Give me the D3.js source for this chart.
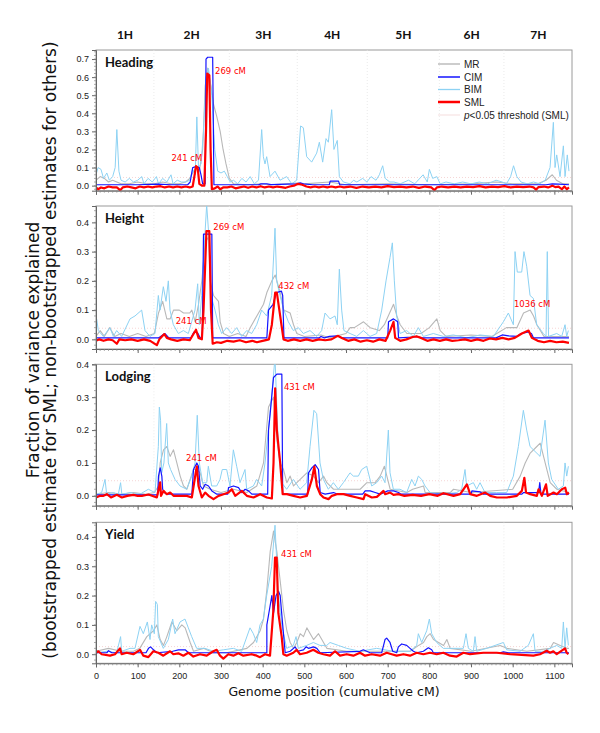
<!DOCTYPE html>
<html><head><meta charset="utf-8">
<script src="https://cdn.jsdelivr.net/npm/d3@7"></script>
<style>body{margin:0;background:#fff}svg{display:block}</style>
</head><body>
<svg id="chart" width="600" height="733"></svg>
<script>
// ---------------- DATA ----------------
const traits = ["Heading", "Height", "Lodging", "Yield"];
const methods = ["MR", "CIM", "BIM", "SML"];
const chromosomes = ["1H", "2H", "3H", "4H", "5H", "6H", "7H"];
const chromCenters = [69.6, 229.7, 401.5, 567, 737.5, 901.6, 1061.4];
const chromBounds = [139, 320, 483, 651, 824, 979];
const xTickValues = [0, 100, 200, 300, 400, 500, 600, 700, 800, 900, 1000, 1100];
const yTickHeading = [0, 0.1, 0.2, 0.3, 0.4, 0.5, 0.6, 0.7];
const yTickOther = [0, 0.1, 0.2, 0.3, 0.4];
const thresholds = [0.045, 0.038, 0.046, 0.026];

// Heading
const headingMR = [[0,0.03],[10,0.05],[20,0.04],[30,0.02],[40,0.03],[60,0.01],[80,0.01],[100,0.02],[120,0.01],[140,0.01],[160,0.02],[180,0.01],[200,0.01],[215,0.02],[225,0.04],[232,0.07],[240,0.1],[248,0.08],[256,0.2],[262,0.55],[268,0.65],[276,0.55],[282,0.45],[290,0.38],[298,0.3],[305,0.2],[312,0.12],[320,0.04],[330,0.01],[360,0.005],[400,0.01],[420,0.005],[480,0.015],[500,0.01],[560,0.02],[600,0.005],[700,0.01],[800,0.005],[900,0.01],[960,0.02],[1000,0.01],[1060,0.01],[1080,0.03],[1095,0.06],[1105,0.03],[1120,0.01],[1135,0.01]];
const headingCIM = [[0,0.005],[100,0.005],[150,0.008],[180,0.005],[220,0.005],[226,0.02],[232,0.1],[240,0.105],[248,0.1],[252,0.06],[256,0.01],[262,0.01],[264,0.7],[268,0.71],[280,0.71],[283,0.005],[390,0.005],[396,0.01],[410,0.01],[420,0.006],[482,0.01],[490,0.015],[498,0.01],[520,0.005],[560,0.005],[562,0.025],[582,0.025],[585,0.005],[1080,0.005],[1095,0.01],[1110,0.008],[1135,0.005]];
const headingBIM = [[0,0.06],[5,0.1],[12,0.09],[18,0.04],[26,0.07],[32,0.03],[40,0.05],[46,0.1],[50,0.31],[55,0.08],[60,0.03],[70,0.02],[80,0.04],[90,0.02],[100,0.03],[110,0.05],[115,0.01],[125,0.04],[135,0.02],[145,0.05],[150,0.01],[160,0.04],[170,0.02],[180,0.06],[185,0.01],[195,0.03],[205,0.02],[215,0.02],[225,0.03],[232,0.09],[238,0.06],[242,0.38],[246,0.1],[252,0.12],[258,0.3],[264,0.6],[270,0.65],[278,0.5],[285,0.2],[292,0.08],[300,0.07],[308,0.08],[315,0.05],[322,0.02],[330,0.03],[340,0.01],[350,0.04],[360,0.02],[370,0.05],[380,0.01],[390,0.03],[397.6,0.31],[401.6,0.16],[405.6,0.12],[409.6,0.16],[417.6,0.05],[429.6,0.08],[441.6,0.03],[457.6,0.05],[469.6,0.01],[481.6,0.03],[491,0.33],[497.6,0.32],[505.6,0.16],[517.6,0.13],[529.6,0.18],[536,0.24],[544,0.13],[552,0.26],[557.6,0.24],[565.6,0.42],[571,0.2],[579,0.25],[584,0.05],[593.6,0.02],[609.6,0.01],[618,0.03],[626,0.02],[640,0.04],[650,0.02],[660,0.05],[672,0.03],[680,0.06],[688,0.11],[694,0.04],[705,0.02],[715,0.02],[730,0.01],[750,0.03],[765,0.01],[785,0.06],[795,0.02],[800,0.09],[808,0.04],[818,0.05],[826,0.01],[840,0.02],[860,0.01],[880,0.02],[900,0.01],[920,0.02],[940,0.01],[960,0.03],[975,0.02],[985,0.01],[995,0.05],[1002,0.11],[1010,0.05],[1020,0.02],[1035,0.01],[1050,0.02],[1065,0.01],[1078,0.03],[1089.6,0.1],[1097.6,0.35],[1101.6,0.1],[1105.6,0.17],[1113.6,0.05],[1121.6,0.22],[1125.6,0.05],[1131,0.17],[1135,0.08]];
const headingSML = [[0,-0.01],[5,-0.02],[12,-0.01],[20,-0.015],[30,-0.005],[40,-0.01],[50,-0.01],[58,-0.025],[64,-0.01],[75,-0.005],[85,-0.01],[95,-0.015],[105,-0.005],[115,-0.01],[125,-0.005],[135,-0.01],[145,-0.005],[155,-0.003],[165,-0.01],[175,-0.005],[185,-0.01],[195,-0.005],[205,-0.01],[215,-0.005],[225,-0.01],[232,-0.005],[236,0.05],[240,0.108],[244,0.1],[248,0.01],[254,0],[260,0],[264,0.3],[267,0.62],[272,0.61],[275,0.2],[278,-0.02],[285,-0.015],[292,-0.005],[298,-0.02],[305,-0.01],[315,-0.01],[325,-0.005],[335,-0.015],[345,-0.01],[355,-0.005],[365,-0.012],[375,-0.005],[385,-0.01],[395,-0.003],[405,-0.01],[415,-0.005],[425,-0.01],[435,-0.005],[445,-0.008],[455,-0.012],[465,-0.005],[475,0],[485,0.01],[495,0.005],[505,-0.005],[515,-0.01],[525,-0.005],[535,-0.01],[545,-0.005],[555,-0.01],[565,-0.005],[575,-0.01],[585,-0.005],[595,-0.01],[610,-0.005],[625,-0.012],[640,-0.005],[655,-0.01],[670,-0.005],[685,-0.01],[700,-0.003],[715,-0.008],[730,-0.005],[745,-0.01],[760,-0.005],[775,-0.012],[790,-0.005],[805,-0.01],[812,-0.025],[818,-0.01],[830,-0.005],[845,-0.01],[860,-0.005],[875,-0.01],[890,-0.005],[905,-0.008],[920,-0.003],[935,-0.01],[950,-0.005],[965,-0.008],[980,-0.003],[995,-0.01],[1010,-0.005],[1025,-0.008],[1040,-0.005],[1050,-0.01],[1056,-0.022],[1062,-0.008],[1075,-0.005],[1085,-0.01],[1095,0],[1102,-0.008],[1110,-0.005],[1118,-0.02],[1124,-0.005],[1130,-0.02],[1135,-0.01]];

// Height
const heightMR = [[0,0.01],[10,0.03],[20,0.01],[33,0.04],[45,0.01],[60,0.02],[80,0.01],[100,0.02],[120,0.01],[140,0.02],[150,0.09],[160,0.13],[170,0.07],[178,0.07],[186,0.1],[200,0.1],[210,0.09],[225,0.09],[230,0.1],[238,0.06],[246,0.12],[254,0.2],[262,0.33],[270,0.35],[274,0.2],[282,0.15],[294,0.13],[298,0.06],[306,0.02],[320,0.01],[340,0.02],[360,0.01],[370,0.04],[386,0.08],[402,0.12],[410,0.16],[422,0.2],[430,0.22],[442,0.16],[450,0.1],[466,0.09],[474,0.05],[482,0.02],[500,0.01],[540,0.015],[560,0.005],[600,0.02],[610,0.04],[620,0.04],[642,0.06],[658,0.04],[680,0.03],[692,0.05],[714,0.12],[722,0.08],[730,0.05],[746,0.02],[780,0.02],[800,0.04],[818,0.07],[826,0.03],[840,0.01],[900,0.015],[950,0.01],[985,0.04],[1010,0.04],[1026,0.09],[1042,0.1],[1050,0.08],[1058,0.05],[1075,0.01],[1135,0.01]];
const heightCIM = [[0,0.005],[150,0.005],[165,0.02],[175,0.005],[228,0.005],[235,0.025],[244,0.022],[250,0.005],[255,0.005],[258,0.36],[278,0.36],[280,0.005],[410,0.005],[414,0.1],[425,0.12],[433,0.16],[445,0.165],[448,0.15],[451,0.005],[535,0.005],[540,0.01],[548,0.005],[560,0.01],[580,0.012],[590,0.005],[700,0.005],[702,0.06],[714,0.07],[724,0.06],[726,0.005],[760,0.008],[770,0.01],[780,0.005],[960,0.005],[975,0.015],[990,0.012],[1010,0.01],[1020,0.02],[1036,0.025],[1045,0.02],[1050,0.005],[1135,0.005]];
const heightBIM = [[1.6,0.07],[5.6,0.03],[17.6,0.01],[33.6,0.04],[41.6,0.01],[49.6,0.03],[61.6,0.01],[81.6,0.07],[93.6,0.08],[109.6,0.1],[117.6,0.03],[129.6,0.01],[141.6,0.02],[149.6,0.15],[153.6,0.1],[161.6,0.18],[168,0.13],[173.6,0.2],[177.6,0.1],[185.6,0.05],[197.6,0.02],[209.6,0.03],[221.6,0.02],[229.6,0.06],[237.6,0.1],[244,0.19],[248,0.05],[253.6,0.15],[259,0.3],[265.6,0.46],[271,0.35],[276,0.15],[285.6,0.1],[293.6,0.05],[301.6,0.02],[313.6,0.04],[325.6,0.02],[337.6,0.04],[349.6,0.01],[361.6,0.03],[373.6,0.02],[385.6,0.05],[397.6,0.1],[409.6,0.08],[421.6,0.15],[429.6,0.38],[433.6,0.2],[441.6,0.15],[451,0.1],[461.6,0.06],[473.6,0.03],[485.6,0.04],[497.6,0.02],[513.6,0.03],[529.6,0.01],[541.6,0.03],[549.6,0.09],[561.6,0.07],[573.6,0.08],[579,0.05],[584,0.24],[589.6,0.1],[595,0.03],[609.6,0.02],[625.6,0.01],[641.6,0.03],[657.6,0.01],[673.6,0.02],[685.6,0.1],[696,0.2],[705.6,0.28],[711.2,0.33],[716,0.2],[721.6,0.08],[729.6,0.02],[745.6,0.03],[761.6,0.01],[773.6,0.04],[785.6,0.01],[809.6,0.02],[833.6,0.01],[857.6,0.015],[889.6,0.005],[921.6,0.015],[953.6,0.01],[977.6,0.06],[989.6,0.09],[1001.6,0.05],[1005.6,0.3],[1011,0.23],[1021.6,0.23],[1027,0.3],[1033.6,0.25],[1041.6,0.15],[1049.6,0.14],[1057.6,0.05],[1073.6,0.02],[1080,0.01],[1083,0.3],[1086,0.01],[1105.6,0.02],[1117.6,0.01],[1125.6,0.05],[1129.6,0.01],[1133.6,0.03]];
const heightSML = [[0,-0.005],[8,0],[18,-0.005],[30,0],[40,-0.003],[50,-0.015],[56,0],[70,-0.003],[85,0],[100,-0.005],[115,0],[130,-0.005],[146,-0.02],[152,0],[164,0.018],[170,0.005],[180,0],[195,-0.005],[210,0],[225,-0.003],[240,0.033],[246,0.005],[254,0],[258,0.1],[265,0.37],[272,0.37],[276,0.1],[280,-0.015],[290,-0.01],[300,-0.012],[315,-0.005],[330,-0.008],[345,-0.003],[360,-0.01],[375,-0.005],[386,-0.01],[400,-0.005],[415,0],[422,0.05],[430,0.16],[434,0.16],[442,0.08],[450,0],[460,-0.005],[475,0],[490,-0.005],[505,0],[520,-0.005],[535,0],[550,-0.003],[565,0],[580,0.012],[590,0.005],[605,-0.005],[620,0],[635,-0.008],[650,-0.003],[665,-0.008],[680,0],[695,-0.005],[706,0.03],[714,0.06],[718,0.005],[730,-0.005],[745,0],[760,0.008],[770,0.01],[780,0.005],[795,-0.005],[810,0],[825,-0.005],[840,0],[855,-0.005],[870,-0.003],[885,0],[900,-0.005],[915,0],[930,-0.005],[945,0.003],[960,0],[975,0.005],[990,0],[1005,0.005],[1022,0.02],[1038,0.03],[1046,0.005],[1060,-0.005],[1075,-0.01],[1090,-0.005],[1105,-0.01],[1120,-0.008],[1135,-0.012]];

// Lodging
const lodgingMR = [[0,0.005],[30,0.01],[60,0.005],[90,0.01],[120,0.005],[140,0.01],[150,0.03],[154,0.1],[162,0.14],[170,0.15],[178,0.12],[186,0.14],[194,0.1],[202,0.06],[210,0.03],[218,0.02],[234,0.08],[242,0.08],[250,0.07],[258,0.03],[274,0.02],[300,0.01],[330,0.02],[362,0.01],[386,0.03],[402,0.1],[414,0.27],[426,0.3],[434,0.17],[442,0.1],[450,0.08],[458,0.04],[466,0.06],[474,0.03],[506,0.07],[522,0.06],[534,0.04],[546,0.06],[554,0.04],[570,0.02],[594,0.02],[634,0.02],[650,0.04],[670,0.04],[682,0.06],[692,0.09],[698,0.06],[706,0.02],[746,0.01],[760,0.02],[786,0.03],[790,0.01],[850,0.01],[858,0.02],[900,0.01],[1000,0.02],[1018,0.06],[1030,0.1],[1042,0.13],[1058,0.15],[1066,0.16],[1074,0.12],[1082,0.08],[1090,0.04],[1106,0.02],[1135,0.01]];
const lodgingCIM = [[0,0.003],[148,0.003],[150,0.06],[154,0.085],[158,0.06],[160,0.02],[164,0.01],[170,0.005],[230,0.005],[234,0.08],[242,0.1],[246,0.09],[250,0.03],[256,0.02],[262,0.035],[270,0.03],[278,0.015],[290,0.005],[316,0.005],[318,0.025],[330,0.03],[342,0.025],[350,0.01],[358,0.02],[366,0.015],[374,0.005],[412,0.005],[414,0.2],[418,0.25],[426,0.36],[434,0.37],[446,0.37],[448,0.005],[508,0.005],[510,0.07],[518,0.085],[526,0.095],[534,0.08],[538,0.01],[550,0.005],[570,0.01],[580,0.005],[640,0.005],[646,0.015],[658,0.015],[670,0.01],[682,0.005],[700,0.015],[714,0.015],[726,0.01],[732,0.005],[900,0.005],[902,0.015],[922,0.012],[930,0.005],[1022,0.005],[1026,0.01],[1042,0.01],[1062,0.01],[1065,0.04],[1068,0.005],[1135,0.005]];
const lodgingBIM = [[1.6,0.005],[13.6,0.01],[21.6,0.05],[25.6,0.005],[41.6,0.01],[53.6,0.005],[59,0.04],[62,0.005],[81.6,0.01],[105.6,0.005],[125.6,0.02],[141.6,0.01],[149.6,0.15],[152,0.27],[155,0.23],[157.6,0.07],[163,0.1],[169.6,0.22],[173.6,0.1],[179,0.08],[189.6,0.05],[201.6,0.03],[217.6,0.02],[229.6,0.06],[237.6,0.1],[243,0.245],[248,0.1],[256,0.04],[265.6,0.04],[269.6,0.09],[277.6,0.03],[289.6,0.03],[297.6,0.05],[303,0.08],[313.6,0.08],[321.6,0.03],[329.6,0.14],[337.6,0.09],[345.6,0.04],[357.6,0.08],[361.6,0.02],[377.6,0.03],[385.6,0.05],[397.6,0.03],[405.6,0.1],[417.6,0.25],[429.6,0.42],[437.6,0.15],[445.6,0.04],[457.6,0.02],[473.6,0.05],[489.6,0.02],[505.6,0.04],[513.6,0.15],[523,0.26],[529.6,0.25],[537.6,0.1],[545.6,0.05],[557.6,0.02],[569.6,0.04],[581.6,0.02],[593.6,0.04],[609.6,0.07],[617.6,0.06],[629.6,0.06],[637.6,0.08],[649.6,0.09],[661.6,0.03],[673.6,0.04],[685.6,0.06],[693.6,0.04],[701.6,0.2],[705.6,0.07],[713.6,0.02],[729.6,0.02],[745.6,0.01],[757.6,0.05],[765.6,0.03],[773.6,0.06],[781.6,0.05],[789.6,0.03],[801.6,0.01],[833.6,0.005],[865.6,0.01],[877.6,0.02],[885.6,0.08],[889.6,0.03],[905.6,0.04],[913.6,0.02],[921.6,0.04],[933.6,0.01],[961.6,0.01],[985.6,0.01],[1001.6,0.06],[1013.6,0.15],[1025.6,0.26],[1033.6,0.2],[1041.6,0.15],[1049.6,0.14],[1065.6,0.12],[1077.6,0.23],[1085.6,0.1],[1093.6,0.05],[1109.6,0.02],[1121.6,0.03],[1125.6,0.1],[1129.6,0.06],[1133.6,0.09]];
const lodgingSML = [[0,-0.005],[10,0],[18,0],[26,0.005],[36,-0.005],[50,0.003],[62,-0.005],[75,0],[90,0.003],[100,0],[110,0],[126,0.004],[146,-0.005],[154,0.041],[156,0],[162,0.015],[170,0.005],[178,0.01],[186,0],[200,0],[218,0],[230,-0.005],[238,0.06],[242,0.09],[246,0.03],[254,-0.005],[262,0.01],[270,0],[282,-0.01],[294,0],[306,0.005],[318,0.01],[326,0.02],[334,0],[350,0.015],[362,0],[378,-0.005],[394,0.005],[410,-0.005],[422,-0.008],[426,0.1],[430,0.327],[434,0.2],[442,0.1],[448,0.005],[458,0.005],[474,0],[490,-0.005],[506,0],[518,0.05],[524,0.089],[530,0.03],[538,0.005],[546,-0.005],[558,-0.01],[566,0],[578,0.005],[594,0.005],[610,0],[626,-0.005],[642,-0.01],[646,0.005],[662,-0.005],[674,-0.003],[690,0.015],[694,0.005],[706,0.01],[714,0.003],[726,0.005],[740,0],[760,0.003],[780,0],[800,0.005],[820,0],[834,0.008],[858,0],[874,0.005],[890,0.035],[898,0.005],[914,0],[934,0.01],[946,0],[962,-0.005],[986,-0.005],[1010,0],[1022,0.015],[1028,0.055],[1032,0.01],[1042,0.005],[1058,0],[1062,0.02],[1070,0],[1080,0.035],[1084,0],[1098,0.01],[1106,0.005],[1118,0.02],[1126,0.025],[1130,0.005],[1135,0.01]];

// Yield
const yieldMR = [[0,0.01],[30,0.02],[60,0.01],[90,0.01],[105,0.02],[122,0.06],[138,0.08],[146,0.1],[154,0.05],[162,0.03],[170,0.06],[182,0.11],[194,0.08],[206,0.1],[214,0.09],[226,0.04],[234,0.01],[258,0.02],[282,0.005],[314,0.005],[362,0.02],[378,0.04],[394,0.08],[402,0.12],[410,0.22],[418,0.35],[426,0.42],[434,0.35],[442,0.25],[450,0.15],[458,0.08],[466,0.04],[474,0.02],[482,0.04],[490,0.07],[498,0.06],[506,0.09],[514,0.07],[522,0.05],[534,0.07],[546,0.04],[554,0.02],[602,0.01],[666,0.01],[754,0.01],[774,0.03],[786,0.04],[794,0.06],[802,0.07],[810,0.05],[822,0.04],[834,0.03],[842,0.05],[850,0.02],[900,0.01],[970,0.03],[986,0.02],[1034,0.01],[1090,0.02],[1098,0.04],[1114,0.03],[1130,0.02],[1135,0.02]];
const yieldCIM = [[0,0.005],[26,0.005],[30,0.012],[38,0.005],[120,0.005],[126,0.02],[131,0.025],[138,0.015],[146,0.005],[184,0.01],[198,0.015],[214,0.015],[222,0.005],[410,0.005],[410,0.1],[416,0.15],[422,0.2],[426,0.14],[432,0.2],[438,0.215],[442,0.2],[448,0.1],[454,0.005],[466,0.01],[478,0.025],[484,0.01],[498,0.015],[504,0.025],[510,0.02],[522,0.025],[530,0.02],[538,0.005],[633.6,0.01],[641.6,0.015],[649.6,0.01],[657.6,0.005],[685.6,0.005],[693.6,0.05],[697.6,0.055],[705.6,0.04],[712,0.01],[721.6,0.005],[725.6,0.025],[733.6,0.035],[745.6,0.03],[753.6,0.02],[761.6,0.01],[769.6,0.005],[785.6,0.01],[797.6,0.022],[805.6,0.015],[809.6,0.005],[970,0.005],[977.6,0.008],[990,0.005],[1135,0.005]];
const yieldBIM = [[1.6,0.005],[25.6,0.01],[49.6,0.005],[59,0.06],[61.6,0.01],[81.6,0.02],[93.6,0.02],[105.6,0.095],[113.6,0.07],[123.2,0.11],[129.6,0.05],[133.6,0.1],[140,0.07],[143.2,0.18],[147.2,0.17],[149.6,0.06],[161.6,0.02],[173.6,0.05],[184,0.12],[189.6,0.07],[201.6,0.11],[213.6,0.12],[221.6,0.09],[229.6,0.06],[241.6,0.02],[261.6,0.02],[281.6,0.01],[305.6,0.015],[329.6,0.02],[349.6,0.01],[369.6,0.09],[377.6,0.07],[385.6,0.04],[393.6,0.1],[401.6,0.12],[409.6,0.2],[421.6,0.3],[429.6,0.44],[437.6,0.2],[445.6,0.1],[457.6,0.02],[473.6,0.03],[480,0.06],[485.6,0.02],[505.6,0.03],[521.6,0.04],[537.6,0.03],[553.6,0.03],[561.6,0.04],[581.6,0.03],[601.6,0.02],[633.6,0.01],[673.6,0.02],[713.6,0.01],[753.6,0.01],[769.6,0.03],[773.6,0.07],[781.6,0.04],[793.6,0.08],[800,0.12],[805.6,0.07],[817.6,0.04],[833.6,0.02],[857.6,0.02],[881.6,0.02],[888,0.07],[893.6,0.02],[905.6,0.01],[909.6,0.06],[913.6,0.01],[937.6,0.02],[977.6,0.04],[985.6,0.015],[1017.6,0.01],[1037.6,0.03],[1049.6,0.07],[1053.6,0.01],[1073.6,0.01],[1089.6,0.02],[1105.6,0.03],[1117.6,0.02],[1121.6,0.11],[1125.6,0.02],[1129.6,0.09],[1133.6,0.03]];
const yieldSML = [[0,0.005],[5.6,0.01],[13.6,0],[33.6,-0.005],[45.6,0],[57.6,0.02],[61.6,0],[73.6,0.005],[89.6,0],[105.6,0.015],[113.6,-0.005],[125.6,-0.01],[137.6,0.01],[149.6,0.005],[161.6,-0.005],[177.6,0.01],[185.6,0],[197.6,0.003],[209.6,-0.005],[221.6,0.005],[233.6,-0.008],[249.6,0],[265.6,-0.005],[281.6,0.01],[289.6,0.015],[297.6,-0.005],[305.6,-0.015],[317.6,0],[329.6,-0.005],[341.6,0.003],[353.6,-0.005],[373.6,0],[385.6,-0.005],[393.6,-0.01],[405.6,0],[417.6,-0.005],[425.6,0.15],[429.6,0.33],[433.6,0.33],[437.6,0.14],[445.6,0.06],[449.6,0],[457.6,-0.005],[473.6,0.005],[481.6,0.015],[489.6,0],[505.6,0.005],[521.6,0.015],[533.6,0.005],[545.6,0],[561.6,-0.005],[573.6,0.01],[585.6,-0.005],[601.6,0],[617.6,-0.005],[633.6,0.005],[645.6,-0.005],[661.6,0],[681.6,-0.005],[697.6,0.005],[709.6,0],[721.6,-0.005],[737.6,0],[753.6,-0.005],[769.6,0.005],[785.6,0],[801.6,0.005],[817.6,0],[833.6,0.005],[849.6,-0.005],[865.6,-0.008],[881.6,0.005],[897.6,0],[929.6,0.005],[961.6,0.005],[993.6,0],[1049.6,-0.005],[1065.6,0],[1081.6,0.012],[1089.6,0.005],[1097.6,0.01],[1105.6,0],[1125.6,0.02],[1129.6,0.005],[1133.6,0]];

// Peak annotations: [panel index, text, cM at text start, value at text baseline]
const annotations = [
  [0, "241 cM", 181, 0.136],
  [0, "269 cM", 285.6, 0.62],
  [1, "269 cM", 281.5, 0.374],
  [1, "432 cM", 437.5, 0.172],
  [1, "241 cM", 191.3, 0.054],
  [1, "1036 cM", 1003, 0.11],
  [2, "431 cM", 451, 0.322],
  [2, "241 cM", 216, 0.106],
  [3, "431 cM", 444, 0.332]
];

const seriesByTrait = [
  {MR: headingMR, CIM: headingCIM, BIM: headingBIM, SML: headingSML},
  {MR: heightMR, CIM: heightCIM, BIM: heightBIM, SML: heightSML},
  {MR: lodgingMR, CIM: lodgingCIM, BIM: lodgingBIM, SML: lodgingSML},
  {MR: yieldMR, CIM: yieldCIM, BIM: yieldBIM, SML: yieldSML}
];

// ---------------- LAYOUT / STYLE ----------------
const svg = d3.select("#chart");
const left = 96, right = 572;
const panels = [
  {top: 50, bottom: 190.7, dom: [-0.028, 0.75], ticks: yTickHeading, minorMax: 0.74},
  {top: 206, bottom: 349, dom: [-0.033, 0.456], ticks: yTickOther, minorMax: 0.44},
  {top: 364.3, bottom: 505.7, dom: [-0.03, 0.4], ticks: yTickOther, minorMax: 0.4},
  {top: 522.3, bottom: 663.3, dom: [-0.031, 0.45], ticks: yTickOther, minorMax: 0.44}
];
const style = {
  MR:  {color: "#b8b8b8", width: 1.1},
  BIM: {color: "#8dd2f3", width: 1.0},
  CIM: {color: "#1414ff", width: 1.2},
  SML: {color: "#ff0000", width: 2.2}
};
const drawOrder = ["MR", "BIM", "CIM", "SML"];

const x = d3.scaleLinear().domain([0, (right - left) / 0.4167]).range([left, right]);

const defs = svg.append("defs");

panels.forEach((p, i) => {
  const y = d3.scaleLinear().domain(p.dom).range([p.bottom, p.top]);
  const g = svg.append("g");
  defs.append("clipPath").attr("id", "clip" + i)
    .append("rect").attr("x", left).attr("y", p.top).attr("width", right - left).attr("height", p.bottom - p.top);

  // frame
  g.append("rect").attr("x", left).attr("y", p.top).attr("width", right - left).attr("height", p.bottom - p.top)
    .attr("fill", "none").attr("stroke", "#9a9a9a").attr("stroke-width", 1);

  const plot = g.append("g").attr("clip-path", `url(#clip${i})`);
  // faint chromosome boundary lines
  plot.selectAll("line.cb").data(chromBounds).join("line")
    .attr("x1", d => x(d)).attr("x2", d => x(d)).attr("y1", p.top).attr("y2", p.bottom)
    .attr("stroke", "#e6e6e6").attr("stroke-width", 0.8).attr("stroke-dasharray", "1,2");
  // threshold
  plot.append("line").attr("x1", left).attr("x2", right)
    .attr("y1", y(thresholds[i])).attr("y2", y(thresholds[i]))
    .attr("stroke", "#f3caca").attr("stroke-width", 0.8).attr("stroke-dasharray", "1,2");

  const line = d3.line().x(d => x(d[0])).y(d => y(d[1]));
  drawOrder.forEach(m => {
    plot.append("path").datum(seriesByTrait[i][m])
      .attr("d", line).attr("fill", "none")
      .attr("stroke", style[m].color).attr("stroke-width", style[m].width)
      .attr("stroke-linejoin", "round");
  });

  // y axis
  const yAxis = d3.axisLeft(y).tickValues(p.ticks).tickFormat(d3.format(".1f")).tickSize(4).tickPadding(3);
  const ya = g.append("g").attr("transform", `translate(${left},0)`).call(yAxis);
  ya.select(".domain").attr("stroke", "#666");
  ya.selectAll(".tick line").attr("stroke", "#666");
  ya.selectAll("text").attr("font-family", "Liberation Sans, Arial, sans-serif").attr("font-size", 9).attr("fill", "#222");
  const yMinor = d3.range(-0.02, p.minorMax + 0.001, 0.02).filter(v => v >= p.dom[0]);
  g.append("g").selectAll("line").data(yMinor).join("line")
    .attr("x1", left - 2).attr("x2", left).attr("y1", d => y(d)).attr("y2", d => y(d))
    .attr("stroke", "#888").attr("stroke-width", 0.7);

  // x axis
  const xAxis = d3.axisBottom(x).tickValues(xTickValues).tickSize(4).tickPadding(5)
    .tickFormat(i === 3 ? d3.format("d") : () => "");
  const xa = g.append("g").attr("transform", `translate(0,${p.bottom})`).call(xAxis);
  xa.select(".domain").attr("stroke", "#666");
  xa.selectAll(".tick line").attr("stroke", "#666");
  xa.selectAll("text").attr("font-family", "Liberation Sans, Arial, sans-serif").attr("font-size", 9).attr("fill", "#222");
  g.append("g").selectAll("line").data(d3.range(10, 1141, 10)).join("line")
    .attr("x1", d => x(d)).attr("x2", d => x(d)).attr("y1", p.bottom).attr("y2", p.bottom + 2)
    .attr("stroke", "#888").attr("stroke-width", 0.7);

  // panel title
  g.append("text").attr("x", 105).attr("y", p.top + 17).text(traits[i])
    .attr("font-family", "Lato, sans-serif").attr("font-weight", "bold").attr("font-size", 13).attr("fill", "#111");

  // annotations
  annotations.filter(a => a[0] === i).forEach(a => {
    g.append("text").attr("x", x(a[2])).attr("y", y(a[3])).text(a[1])
      .attr("font-family", "DejaVu Sans, sans-serif").attr("font-size", 8.5).attr("fill", "#ff0000");
  });
});

// chromosome labels
svg.append("g").selectAll("text").data(chromosomes).join("text")
  .attr("x", (d, i) => x(chromCenters[i])).attr("y", 39).attr("text-anchor", "middle").text(d => d)
  .attr("font-family", "Lato, sans-serif").attr("font-weight", "bold").attr("font-size", 12).attr("fill", "#111");

// legend
const legendY = [64, 77, 89.5, 102, 115];
const legendItems = ["MR", "CIM", "BIM", "SML", "threshold"];
const lg = svg.append("g");
legendItems.forEach((m, k) => {
  const st = m === "threshold" ? {color: "#f6e0e0", width: 0.8} : style[m];
  lg.append("line").attr("x1", 438).attr("x2", 460).attr("y1", legendY[k]).attr("y2", legendY[k])
    .attr("stroke", st.color).attr("stroke-width", m === "SML" ? 2.5 : st.width + 0.3);
  const t = lg.append("text").attr("x", 464).attr("y", legendY[k] + 3.5)
    .attr("font-family", "Liberation Sans, Arial, sans-serif").attr("font-size", 10).attr("fill", "#222");
  if (m === "threshold") {
    t.append("tspan").attr("font-style", "italic").text("p");
    t.append("tspan").text("<0.05 threshold (SML)");
  } else t.text(m);
});

// axis titles
svg.append("text").attr("x", 334).attr("y", 696).attr("text-anchor", "middle")
  .attr("font-family", "DejaVu Sans, sans-serif").attr("font-size", 12.5).attr("fill", "#111")
  .text("Genome position (cumulative cM)");
const yt = svg.append("text").attr("transform", "translate(0,350) rotate(-90)")
  .attr("text-anchor", "middle").attr("font-family", "DejaVu Sans, sans-serif").attr("font-size", 17).attr("fill", "#111");
yt.append("tspan").attr("x", 0).attr("y", 39).text("Fraction of variance explained");
yt.append("tspan").attr("x", 0).attr("y", 56).text("(bootstrapped estimate for SML; non-bootstrapped estimates for others)");
</script>
</body></html>
